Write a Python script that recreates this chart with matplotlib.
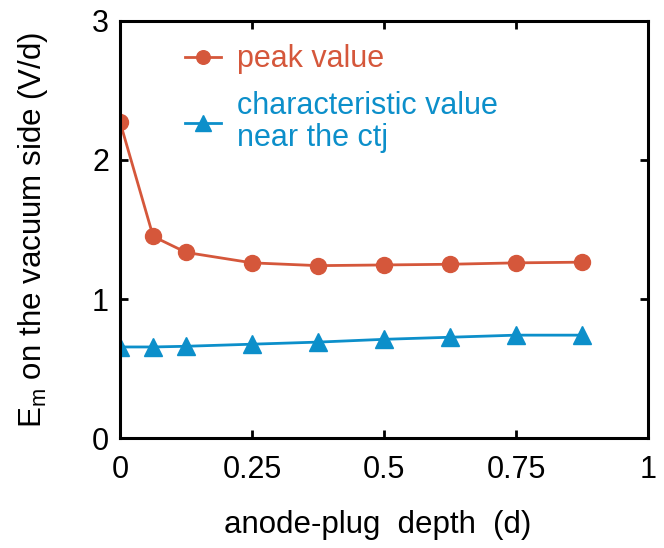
import matplotlib
matplotlib.use("Agg")
import matplotlib.pyplot as plt

plt.rcParams["font.family"] = ["Liberation Sans", "DejaVu Sans"]
plt.rcParams["mathtext.fontset"] = "custom"
plt.rcParams["mathtext.rm"] = "Liberation Sans"
plt.rcParams["mathtext.it"] = "Liberation Sans"

ORANGE = "#d5573b"
BLUE = "#0c8fca"

depth = [0, 0.0625, 0.125, 0.25, 0.375, 0.5, 0.625, 0.75, 0.875]
peak_value = [2.27, 1.45, 1.335, 1.26, 1.24, 1.245, 1.25, 1.26, 1.265]
ctj_value = [0.655, 0.655, 0.66, 0.675, 0.69, 0.71, 0.725, 0.74, 0.74]

x_ticks = [0, 0.25, 0.5, 0.75, 1]
x_ticklabels = ["0", "0.25", "0.5", "0.75", "1"]
y_ticks = [0, 1, 2, 3]

fig = plt.figure(figsize=(6.64, 5.48), dpi=100)
ax = fig.add_axes([0.181, 0.2007, 0.795, 0.761])

ax.plot(depth, peak_value, color=ORANGE, lw=2, marker="o", ms=11.5,
        label="peak value")
ax.plot(depth, ctj_value, color=BLUE, lw=2, marker="^", ms=13,
        label="characteristic value\nnear the ctj")

ax.set_xlim(0, 1)
ax.set_ylim(0, 3)
ax.set_xticks(x_ticks)
ax.set_xticklabels(x_ticklabels)
ax.set_yticks(y_ticks)

for s in ax.spines.values():
    s.set_linewidth(2.2)
ax.tick_params(direction="in", length=6, width=2, top=True, right=True,
               labelsize=22)
ax.tick_params(axis="x", pad=12)
ax.tick_params(axis="y", pad=8)

ax.set_xlabel("anode-plug  depth  (d)", fontsize=22.5)
ax.xaxis.set_label_coords(0.487, -0.172)
ax.set_ylabel(r"E$_{\mathregular{m}}$ on the vacuum side (V/d)", fontsize=22.5,
              labelpad=30)

leg = ax.legend(loc="upper left", bbox_to_anchor=(0.07, 1.01), frameon=False,
                fontsize=22, handlelength=1.2, handletextpad=0.5,
                labelspacing=0.55, markerscale=0.85)
for text, col in zip(leg.get_texts(), [ORANGE, BLUE]):
    text.set_color(col)
    text.set_linespacing(1.1)

fig.savefig("out.png", dpi=100)
